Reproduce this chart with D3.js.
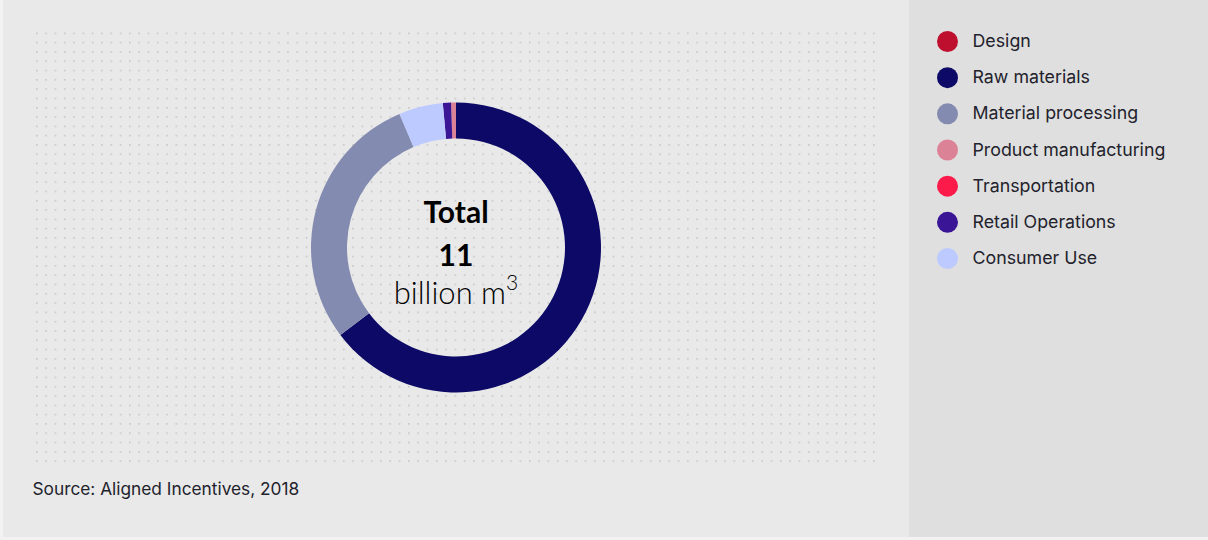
<!DOCTYPE html>
<html>
<head>
<meta charset="utf-8">
<script src="https://cdn.jsdelivr.net/npm/d3@7"></script>
<style>
  html, body { margin: 0; padding: 0; background: #f2f2f2; }
  svg { display: block; }
</style>
</head>
<body>
<svg id="chart" width="1208" height="540"></svg>
<script>
// ---- data ----
const categories = ["Design", "Raw materials", "Material processing", "Product manufacturing", "Transportation", "Retail Operations", "Consumer Use"];
const values = [0, 7.11, 3.18, 0.06, 0, 0.10, 0.54]; // billion m3
const colors = ["#be0f2e", "#0c0a66", "#838bb0", "#dc8296", "#fc1a4a", "#3a1596", "#bccaff"];
const totalLabel = "Total";
const totalValue = "11";
const unitLabel = "billion m";
const sourceText = "Source: Aligned Incentives, 2018";

const W = 1208, H = 540;
const svg = d3.select("#chart");

// panels
svg.append("rect").attr("x", 3).attr("y", 0).attr("width", 906).attr("height", 537).attr("fill", "#e9e9e9");
svg.append("rect").attr("x", 909).attr("y", 0).attr("width", 299).attr("height", 537).attr("fill", "#dfdfdf");

// dotted grid
const defs = svg.append("defs");
const step = 9.3;
const pat = defs.append("pattern").attr("id", "dots").attr("patternUnits", "userSpaceOnUse")
  .attr("x", 36).attr("y", 32.5).attr("width", step).attr("height", step);
pat.append("rect").attr("x", 0).attr("y", 0).attr("width", 1.6).attr("height", 1.6).attr("fill", "#c6c6c6");
svg.append("rect").attr("x", 35).attr("y", 32).attr("width", 840).attr("height", 432).attr("fill", "url(#dots)");

// donut
const cx = 456, cy = 247.5, rOuter = 145, rInner = 109;
const data = categories.map((c, i) => ({ name: c, value: values[i], color: colors[i] }));
const color = d3.scaleOrdinal().domain(categories).range(colors);
const pie = d3.pie().value(d => d.value).sort((a, b) => b.value - a.value);
const arc = d3.arc().innerRadius(rInner).outerRadius(rOuter);
const g = svg.append("g").attr("transform", `translate(${cx},${cy})`);
g.selectAll("path").data(pie(data)).join("path")
  .attr("d", arc).attr("fill", d => color(d.data.name));

// center text
const ct = g.append("g").attr("font-family", "Lato, 'Noto Sans', sans-serif").attr("fill", "#000").attr("text-anchor", "middle");
ct.append("text").attr("y", -25).attr("font-size", 30).attr("font-weight", 700).text(totalLabel);
ct.append("text").attr("y", 18).attr("font-size", 30).attr("font-weight", 700).text(totalValue);
const t3 = ct.append("text").attr("y", 56).attr("font-size", 31).attr("font-weight", 300);
t3.append("tspan").text(unitLabel);
t3.append("tspan").attr("font-size", 21).attr("dy", -14).text("3");

// legend
const lg = svg.append("g").attr("font-family", "Inter, 'Liberation Sans', sans-serif");
const ly = d3.scalePoint().domain(categories).range([41.5, 258.5]);
const items = lg.selectAll("g").data(data).join("g")
  .attr("transform", d => `translate(947.5,${ly(d.name)})`);
items.append("circle").attr("r", 10.5).attr("fill", d => color(d.name));
items.append("text").attr("x", 25).attr("y", 5.5).attr("font-size", 17.8).attr("fill", "#22222c").text(d => d.name);

// source
svg.append("text").attr("x", 32.5).attr("y", 494.5).attr("font-family", "Inter, 'Liberation Sans', sans-serif")
  .attr("font-size", 17.3).attr("fill", "#22222c").text(sourceText);
</script>
</body>
</html>
